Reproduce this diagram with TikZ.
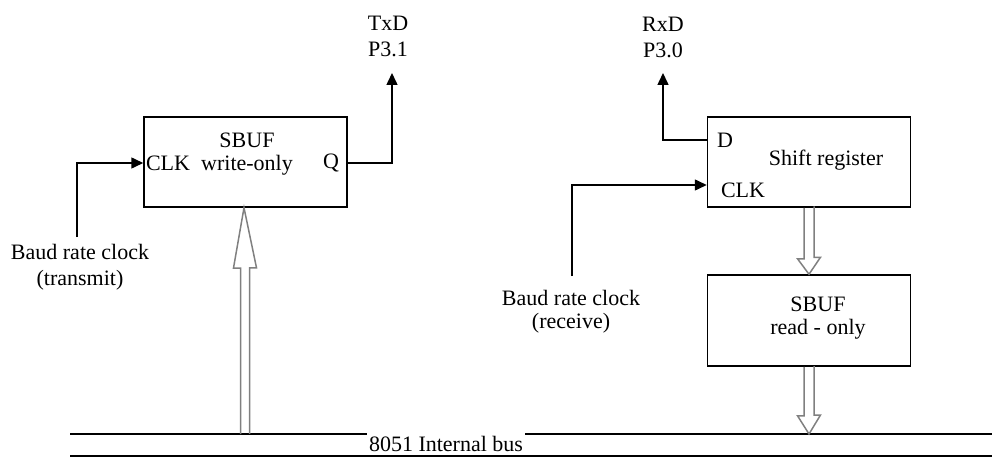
\documentclass[tikz,border=0pt]{standalone}
\usepackage{fontspec}
\setmainfont{Liberation Serif}
\usetikzlibrary{arrows.meta,positioning,calc}
\tikzset{
  reg/.style={draw, line width=1.5pt, minimum width=203pt, minimum height=90pt, inner sep=0pt},
  lbl/.style={font=\fontsize{22}{23}\selectfont, align=center, inner sep=1pt},
  sig/.style={line width=1.5pt, -{Triangle[length=12pt,width=11pt]}},
  wire/.style={line width=1.5pt},
  hollow/.style={draw=black!50, line width=1.5pt, line join=miter},
}

\begin{document}
\begin{tikzpicture}[x=1pt,y=-1pt]
    \useasboundingbox (0,0) rectangle (992,457);
    % transmit side
    \node[reg] (sbufw) at (245.5,162) {};
    \node[lbl] (sbufwtxt) at (247,154) {SBUF\\write-only};
    \node[lbl] (clkw) at (168,163) {CLK};
    \node[lbl] (qw) at (331,163) {Q};
    \coordinate (clkwsrc) at (77,237);
    \node[lbl] (baudtx) at (80,267) {Baud rate clock\\[3pt](transmit)};
    \draw[sig] (clkwsrc) |- (sbufw.west |- clkw);
    \coordinate (txpin) at (392,73);
    \node[lbl] (txd) at (388,36) {TxD\\[3pt]P3.1};
    \draw[sig] (sbufw.east |- qw) -| (txpin);
    % receive side
    \node[reg] (shreg) at (809,162) {};
    \node[lbl] (dr) at (725,140) {D};
    \node[lbl] (shtxt) at (826,160) {Shift register};
    \node[lbl] (clkr) at (743,190) {CLK};
    \coordinate (rxpin) at (663,73);
    \node[lbl] (rxd) at (663,37) {RxD\\[3pt]P3.0};
    \draw[sig] (shreg.west |- dr) -| (rxpin);
    \coordinate (clkrsrc) at (572,276);
    \node[lbl] (baudrx) at (571,312) {Baud rate clock\\(receive)};
    \draw[sig] (clkrsrc) |- ([yshift=-23pt]shreg.west);
    \node[reg, minimum height=91pt] (sbufr) at (809,320.5) {};
    \node[lbl] (sbufrtxt) at (818,318) {SBUF\\read - only};
    % internal bus
    \coordinate (busL) at (70,434);
    \coordinate (busR) at (992,434);
    \coordinate (busLL) at (70,456);
    \coordinate (busRR) at (992,456);
    \node[lbl, inner sep=2pt] (bus) at (446,444) {8051 Internal bus};
    \draw[wire] (busL) -- (bus.west |- busL);
    \draw[wire] (bus.east |- busL) -- (busR);
    \draw[wire] (busLL) -- (busRR);
    % data paths
    \draw[hollow] ([xshift=-5pt]sbufw.south |- busL) -- ++(0,-166) -- ++(-7,0)
      -- ([xshift=-1.5pt]sbufw.south) -- ++(12.5,60) -- ++(-7,0) -- ++(0,166);
    \draw[hollow] ([xshift=-5pt]shreg.south) -- ++(0,51) -- ++(-6.5,0)
      -- (sbufr.north) -- ++(11.5,-17) -- ++(-6.5,0) -- ++(0,-51);
    \draw[hollow] ([xshift=-5pt]sbufr.south) -- ++(0,49) -- ++(-6.5,0)
      -- (sbufr.south |- busL) -- ++(11.5,-19) -- ++(-6.5,0) -- ++(0,-49);
\end{tikzpicture}
\end{document}
